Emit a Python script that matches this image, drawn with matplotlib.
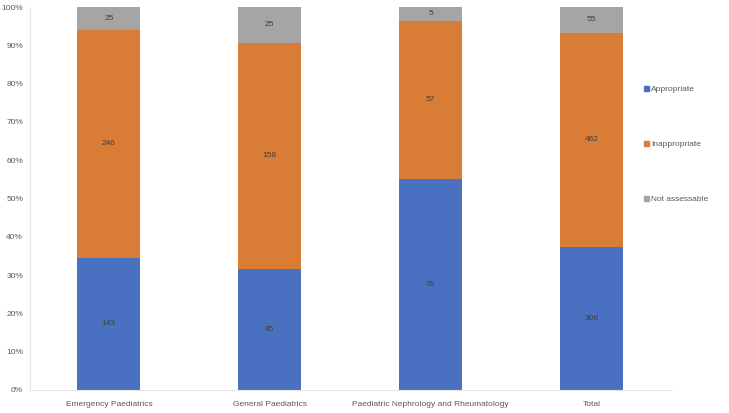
import numpy as np
import matplotlib.pyplot as plt
from matplotlib.patches import Patch

# counts
categories = ["Emergency Paediatrics", "General Paediatrics",
              "Paediatric Nephrology and Rheumatology", "Total"]
appropriate = [143, 85, 76, 308]
inappropriate = [246, 158, 57, 462]
not_assessable = [25, 25, 5, 55]

series = [("Appropriate", appropriate, "#4A70C2"),
          ("Inappropriate", inappropriate, "#D97C36"),
          ("Not assessable", not_assessable, "#A5A5A5")]

plt.rcParams['font.family'] = ['Liberation Sans', 'DejaVu Sans']

fig = plt.figure(figsize=(7.29, 4.13), dpi=100)
ax = fig.add_axes([30/729, 23/413, 642/729, 383/413])

totals = np.array(appropriate) + np.array(inappropriate) + np.array(not_assessable)
x = np.arange(len(categories))
bottom = np.zeros(len(categories))
for name, vals, col in series:
    frac = np.array(vals) / totals
    ax.bar(x, frac, 0.39, bottom=bottom, color=col, label=name)
    for xi, b, f, v in zip(x, bottom, frac, vals):
        ax.text(xi, b + f/2, str(v), ha='center', va='center', fontsize=6, color='#404040')
    bottom += frac

ax.set_xlim(-0.49, 3.5)
ax.set_ylim(0, 1)
ax.set_yticks(np.arange(0, 1.01, 0.1))
ax.set_yticklabels([f"{int(round(t*100))}%" for t in np.arange(0, 1.01, 0.1)])
ax.set_xticks(x)
ax.set_xticklabels(categories)
ax.tick_params(length=0, labelsize=6, colors='#595959')
ax.tick_params(axis='y', pad=5)
ax.tick_params(axis='x', pad=8)
for s in ['top', 'right']:
    ax.spines[s].set_visible(False)
for s in ['left', 'bottom']:
    ax.spines[s].set_color('#E6E6E6')
    ax.spines[s].set_linewidth(0.8)

handles = [Patch(color=c, label=n) for n, _, c in series]
fig.legend(handles=handles, loc='upper left', bbox_to_anchor=(636/729, 1 - 78/413),
           frameon=False, fontsize=6, labelspacing=5.7, handlelength=0.6,
           handleheight=0.6, handletextpad=0.3, labelcolor='#595959')

fig.savefig("out.png", dpi=100)
